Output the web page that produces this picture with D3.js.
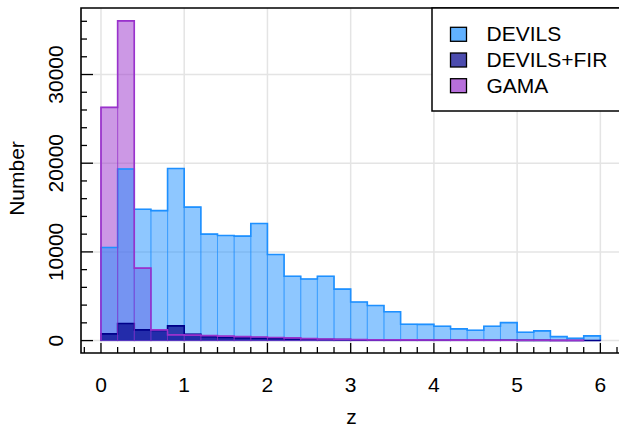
<!DOCTYPE html>
<html><head><meta charset="utf-8">
<script src="https://cdn.jsdelivr.net/npm/d3@7"></script>
<style>
html,body{margin:0;padding:0;background:#fff;}
svg{display:block;font-family:"Liberation Sans",Arial,sans-serif;}
</style></head>
<body><svg id="c" width="619" height="428"></svg>
<script>
const binWidth = 0.2;
const seriesNames = ["DEVILS", "DEVILS+FIR", "GAMA"];
const devils = [10500, 19350, 14800, 14650, 19400, 15050, 12000, 11850, 11780, 13200,
  9700, 7250, 6950, 7250, 5800, 4350, 3950, 3250, 1850, 1830,
  1620, 1320, 1170, 1620, 2030, 940, 1090, 450, 260, 530];
const devilsFir = [760, 1920, 1210, 1130, 1660, 720, 430, 350, 310, 280,
  230, 180, 150, 130, 110, 80, 70, 60, 50, 45,
  40, 35, 30, 30, 30, 20, 20, 15, 10, 10];
const gama = [26300, 36050, 8170, 1210, 640, 620, 560, 500, 450, 410,
  350, 300, 220, 180, 150, 120, 100, 90, 80, 70,
  60, 50, 50, 40, 40, 30, 30, 20, 20];
const xMajorTicks = [0, 1, 2, 3, 4, 5, 6];
const yMajorTicks = [0, 10000, 20000, 30000];
const xLabel = "z", yLabel = "Number";

(function () {
const svg = d3.select("#c");
const FS = 21;
const L = 81, R = 622, T = 8, B = 353;
const x = d3.scaleLinear().domain([-0.24, 6.26]).range([L, R]);
const y = d3.scaleLinear().domain([-1400, 37500]).range([B, T]);

// grid
svg.append("g").selectAll("line").data(xMajorTicks).join("line")
  .attr("x1", d => x(d)).attr("x2", d => x(d)).attr("y1", T).attr("y2", B)
  .attr("stroke", "#e4e4e4").attr("stroke-width", 1.5);
svg.append("g").selectAll("line").data(yMajorTicks).join("line")
  .attr("x1", L).attr("x2", R).attr("y1", d => y(d)).attr("y2", d => y(d))
  .attr("stroke", "#e4e4e4").attr("stroke-width", 1.5);

const series = [
  {name: "GAMA", vals: gama, col: "#9932CC", alpha: 0.5},
  {name: "DEVILS", vals: devils, col: "#1E90FF", alpha: 0.5},
  {name: "DEVILS+FIR", vals: devilsFir, col: "#00008B", alpha: 0.7}
];
// fills
series.forEach(s => {
  svg.append("g").selectAll("rect").data(s.vals).join("rect")
    .attr("x", (d, i) => x(i * binWidth))
    .attr("width", (d, i) => x((i + 1) * binWidth) - x(i * binWidth))
    .attr("y", d => y(d)).attr("height", d => y(0) - y(d))
    .attr("fill", s.col).attr("fill-opacity", s.alpha);
});
// outlines
const outlineOrder = [series[1], series[2], series[0]];
outlineOrder.forEach(s => {
  svg.append("g").selectAll("rect").data(s.vals).join("rect")
    .attr("x", (d, i) => x(i * binWidth))
    .attr("width", (d, i) => x((i + 1) * binWidth) - x(i * binWidth))
    .attr("y", d => y(d)).attr("height", d => y(0) - y(d))
    .attr("fill", "none").attr("stroke", s.col).attr("stroke-opacity", 0.5).attr("stroke-width", 1);
  const pts = [];
  s.vals.forEach((v, i) => { pts.push([x(i * binWidth), y(v)]); pts.push([x((i + 1) * binWidth), y(v)]); });
  const path = [[x(0), y(0)], ...pts, [x(s.vals.length * binWidth), y(0)]];
  svg.append("path").attr("d", d3.line()(path)).attr("fill", "none")
    .attr("stroke", s.col).attr("stroke-width", 1.6);
});

// frame
svg.append("path").attr("d", `M${R},${T}H${L}V${B}H${R}`)
  .attr("fill", "none").attr("stroke", "#000").attr("stroke-width", 1.6);

// ticks (inward)
const xMinor = d3.range(-1, 32).map(i => i * binWidth).filter(v => x(v) > L && x(v) < 619);
svg.append("g").selectAll("line").data(xMinor).join("line")
  .attr("x1", d => x(d)).attr("x2", d => x(d)).attr("y1", B)
  .attr("y2", d => xMajorTicks.some(t => Math.abs(t - d) < 1e-6) ? B - 10 : B - 6)
  .attr("stroke", "#000").attr("stroke-width", 1.3);
const yMinor = d3.range(0, 37000, 2000);
svg.append("g").selectAll("line").data(yMinor).join("line")
  .attr("y1", d => y(d)).attr("y2", d => y(d)).attr("x1", L)
  .attr("x2", d => yMajorTicks.includes(d) ? L + 12 : L + 6)
  .attr("stroke", "#000").attr("stroke-width", 1.3);

// tick labels
svg.append("g").selectAll("text").data(xMajorTicks).join("text")
  .attr("x", d => x(d)).attr("y", 392).attr("text-anchor", "middle")
  .attr("font-size", FS).text(d => d);
svg.append("g").selectAll("text").data(yMajorTicks).join("text")
  .attr("transform", d => `translate(62.5,${y(d)}) rotate(-90)`)
  .attr("text-anchor", "middle").attr("font-size", FS).text(d => d);

// axis labels
svg.append("text").attr("x", (L + R) / 2).attr("y", 424).attr("text-anchor", "middle")
  .attr("font-size", FS).text(xLabel);
svg.append("text").attr("transform", `translate(23.5,${(T + B) / 2 - 2}) rotate(-90)`)
  .attr("text-anchor", "middle").attr("font-size", FS).text(yLabel);

// legend
svg.append("rect").attr("x", 432).attr("y", T).attr("width", 220).attr("height", 111 - T)
  .attr("fill", "#fff").attr("stroke", "#000").attr("stroke-width", 1.5);
const legCols = {"DEVILS": "#1E90FF", "DEVILS+FIR": "#00008B", "GAMA": "#9932CC"};
const lg = svg.append("g").selectAll("g").data(seriesNames).join("g")
  .attr("transform", (d, i) => `translate(0,${34.3 + i * 25.7})`);
lg.append("rect").attr("x", 450.5).attr("y", -7).attr("width", 16).attr("height", 14)
  .attr("fill", d => legCols[d]).attr("fill-opacity", 0.7)
  .attr("stroke", "#000").attr("stroke-width", 1.3);
lg.append("text").attr("x", 486.5).attr("y", 7).attr("font-size", FS).text(d => d);
})();
</script></body></html>
